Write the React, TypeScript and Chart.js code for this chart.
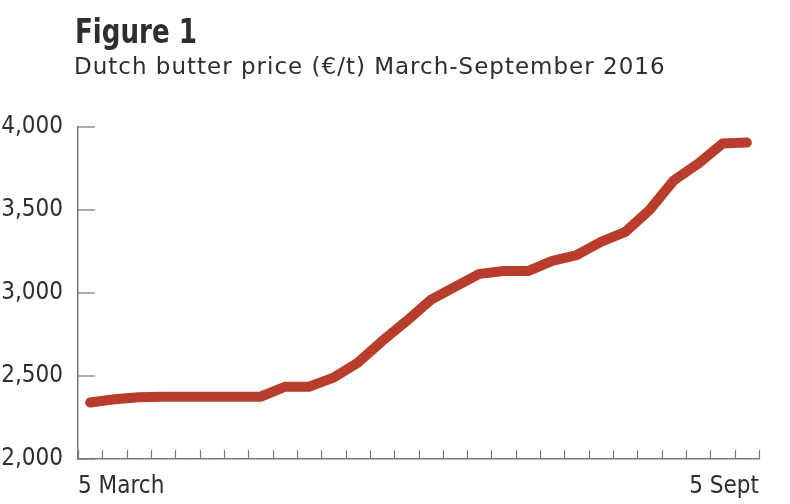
import React, { useEffect, useRef } from 'react';
import { Chart, registerables } from 'chart.js';

Chart.register(...registerables);

// ---------- data ----------
const titleText = 'Figure 1';
const subtitleText = 'Dutch butter price (€/t) March-September 2016';
const weekCount = 28;
const xEdgeLabels = ['5 March', '5 Sept'];
const prices = [
  2340, 2360, 2372, 2375, 2375, 2375, 2375, 2375, 2435, 2435,
  2490, 2580, 2710, 2830, 2958, 3037, 3115, 3133, 3132, 3194,
  3228, 3308, 3368, 3500, 3679, 3779, 3900, 3906,
];
const yTickValues = [2000, 2500, 3000, 3500, 4000];

// ---------- styles ----------
const NARROW = '"DejaVu Sans Condensed", "DejaVu Sans", sans-serif';
const TEXT = '#2e2e2e';
const AXIS = '#777777';
const LINE = '#b83d2c';

const inwardTicks = {
  id: 'inwardTicks',
  beforeDatasetsDraw(chart: any) {
    const { ctx, chartArea, scales } = chart;
    const x = scales.x;
    const y = scales.y;
    ctx.save();
    ctx.strokeStyle = AXIS;
    ctx.lineWidth = 1.2;
    x.ticks.forEach((t: any) => {
      const px = Math.round(x.getPixelForValue(t.value)) + 0.5;
      ctx.beginPath();
      ctx.moveTo(px, chartArea.bottom);
      ctx.lineTo(px, chartArea.bottom - 9);
      ctx.stroke();
    });
    y.ticks.forEach((t: any) => {
      const py = y.getPixelForValue(t.value);
      ctx.beginPath();
      ctx.moveTo(chartArea.left, py);
      ctx.lineTo(chartArea.left + 17, py);
      ctx.stroke();
    });
    ctx.restore();
  },
};

const headings = {
  id: 'headings',
  afterDraw(chart: any) {
    const ctx = chart.ctx;
    ctx.save();
    ctx.fillStyle = TEXT;
    ctx.textAlign = 'left';
    ctx.textBaseline = 'alphabetic';
    // title: bold condensed
    ctx.font = `bold 34px ${NARROW}`;
    const w = ctx.measureText(titleText).width;
    const sx = 122 / w;
    ctx.save();
    ctx.translate(75, 43);
    ctx.scale(sx, 1);
    ctx.fillText(titleText, 0, 0);
    ctx.restore();
    // subtitle
    ctx.font = '23px "DejaVu Sans", sans-serif';
    (ctx as any).letterSpacing = '1px';
    ctx.fillText(subtitleText, 74, 74);
    (ctx as any).letterSpacing = '0px';
    ctx.restore();
  },
};

export default function App() {
  const ref = useRef<HTMLCanvasElement | null>(null);

  useEffect(() => {
    if (!ref.current) return;
    const chart = new Chart(ref.current, {
      type: 'line',
      data: {
        datasets: [
          {
            data: prices.map((p, i) => ({ x: i + 0.5, y: p })),
            borderColor: LINE,
            borderWidth: 10,
            borderCapStyle: 'round',
            borderJoinStyle: 'round',
            pointRadius: 0,
            tension: 0,
            fill: false,
          },
        ],
      },
      options: {
        responsive: false,
        animation: false,
        layout: { padding: { top: 127, right: 31, left: 0, bottom: 0 } },
        plugins: { legend: { display: false }, tooltip: { enabled: false }, title: { display: false } },
        scales: {
          x: {
            type: 'linear',
            min: 0,
            max: weekCount,
            grid: { display: false, drawTicks: false },
            border: { display: true, color: AXIS, width: 1.5 },
            ticks: {
              stepSize: 1,
              maxTicksLimit: 100,
              autoSkip: false,
              maxRotation: 0,
              align: 'inner',
              padding: 13,
              color: TEXT,
              font: { family: NARROW, size: 24 },
              callback: (v: any) => (v === 0 ? xEdgeLabels[0] : v === weekCount ? xEdgeLabels[1] : ''),
            },
            afterFit: (s: any) => {
              s.height = 45;
            },
          },
          y: {
            min: yTickValues[0],
            max: yTickValues[yTickValues.length - 1],
            grid: { display: false, drawTicks: false },
            border: { display: true, color: AXIS, width: 1.5 },
            ticks: {
              stepSize: yTickValues[1] - yTickValues[0],
              padding: 15,
              color: TEXT,
              font: { family: NARROW, size: 24 },
              callback: (v: any) => Number(v).toLocaleString('en-US'),
            },
            afterFit: (s: any) => {
              s.width = 78;
            },
          },
        },
      },
      plugins: [inwardTicks, headings],
    });
    return () => chart.destroy();
  }, []);

  return (
    <div style={{ position: 'absolute', left: 0, top: 0, width: 790, height: 504, background: '#fff' }}>
      <canvas ref={ref} width={790} height={504} style={{ display: 'block' }} />
    </div>
  );
}
